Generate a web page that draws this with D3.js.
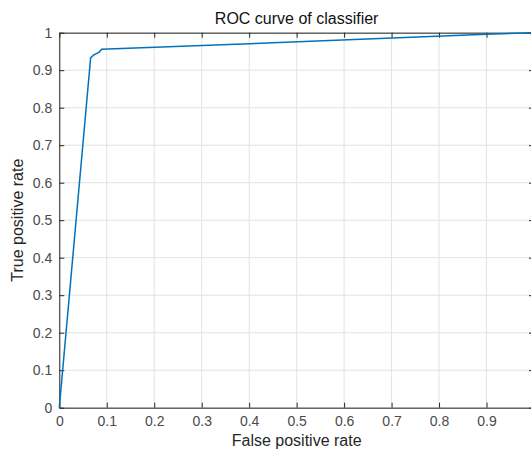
<!DOCTYPE html>
<html>
<head>
<meta charset="utf-8">
<script src="https://cdn.jsdelivr.net/npm/d3@7"></script>
<style>
  body { margin: 0; background: #fff; }
  svg { display: block; font-family: "Liberation Sans", Arial, sans-serif; }
</style>
</head>
<body>
<svg id="chart"></svg>
<script>
// ROC curve points
var fpr = [0, 0.066, 0.072, 0.078, 0.084, 0.089, 0.45, 0.9, 1];
var tpr = [0, 0.933, 0.940, 0.944, 0.948, 0.956, 0.973, 0.996, 1];

// Tick values and labels
var xTicks = [0, 0.1, 0.2, 0.3, 0.4, 0.5, 0.6, 0.7, 0.8, 0.9, 1];
var xTickLabels = ["0", "0.1", "0.2", "0.3", "0.4", "0.5", "0.6", "0.7", "0.8", "0.9", "1"];
var yTicks = [0, 0.1, 0.2, 0.3, 0.4, 0.5, 0.6, 0.7, 0.8, 0.9, 1];
var yTickLabels = ["0", "0.1", "0.2", "0.3", "0.4", "0.5", "0.6", "0.7", "0.8", "0.9", "1"];

var width = 531, height = 452;
var plot = {left: 59.3, right: 534, top: 32.7, bottom: 407.7};

var svg = d3.select("#chart")
  .attr("width", width)
  .attr("height", height);

var x = d3.scaleLinear().domain([0, 1]).range([plot.left, plot.right]);
var y = d3.scaleLinear().domain([0, 1]).range([plot.bottom, plot.top]);

// Grid
svg.append("g")
  .selectAll("line")
  .data(xTicks)
  .enter().append("line")
  .attr("x1", function (d) { return x(d); })
  .attr("x2", function (d) { return x(d); })
  .attr("y1", plot.top)
  .attr("y2", plot.bottom)
  .attr("stroke", "#e3e3e3")
  .attr("stroke-width", 1);

svg.append("g")
  .selectAll("line")
  .data(yTicks)
  .enter().append("line")
  .attr("x1", plot.left)
  .attr("x2", plot.right)
  .attr("y1", function (d) { return y(d); })
  .attr("y2", function (d) { return y(d); })
  .attr("stroke", "#e3e3e3")
  .attr("stroke-width", 1);

// Axes with inward ticks (box style)
function styleAxis(g) {
  g.select(".domain").attr("stroke", "#262626").attr("stroke-width", 1);
  g.selectAll(".tick line").attr("stroke", "#262626");
  g.selectAll(".tick text")
    .attr("fill", "#4a4a4a")
    .style("font-size", "14px")
    .style("font-family", "\"Liberation Sans\", Arial, sans-serif");
}

svg.append("g")
  .attr("transform", "translate(0," + plot.bottom + ")")
  .call(d3.axisBottom(x).tickValues(xTicks)
    .tickFormat(function (d, i) { return xTickLabels[i]; })
    .tickSizeInner(-5).tickSizeOuter(0).tickPadding(8))
  .call(styleAxis);

svg.append("g")
  .attr("transform", "translate(0," + plot.top + ")")
  .call(d3.axisTop(x).tickValues(xTicks)
    .tickFormat("").tickSizeInner(-5).tickSizeOuter(0))
  .call(styleAxis);

svg.append("g")
  .attr("transform", "translate(" + plot.left + ",0)")
  .call(d3.axisLeft(y).tickValues(yTicks)
    .tickFormat(function (d, i) { return yTickLabels[i]; })
    .tickSizeInner(-5).tickSizeOuter(0).tickPadding(7))
  .call(styleAxis);

svg.append("g")
  .attr("transform", "translate(" + plot.right + ",0)")
  .call(d3.axisRight(y).tickValues(yTicks)
    .tickFormat("").tickSizeInner(-5).tickSizeOuter(0))
  .call(styleAxis);

// ROC line
var line = d3.line()
  .x(function (d) { return x(d[0]); })
  .y(function (d) { return y(d[1]); });

svg.append("path")
  .datum(d3.zip(fpr, tpr))
  .attr("d", line)
  .attr("fill", "none")
  .attr("stroke", "#0072BD")
  .attr("stroke-width", 1.5);

// Title and axis labels
svg.append("text")
  .attr("x", (plot.left + plot.right) / 2)
  .attr("y", 24)
  .attr("text-anchor", "middle")
  .attr("fill", "#111")
  .style("font-size", "16px")
  .text("ROC curve of classifier");

svg.append("text")
  .attr("x", (plot.left + plot.right) / 2)
  .attr("y", 446)
  .attr("text-anchor", "middle")
  .attr("fill", "#262626")
  .style("font-size", "16px")
  .text("False positive rate");

svg.append("text")
  .attr("transform", "translate(23," + ((plot.top + plot.bottom) / 2) + ") rotate(-90)")
  .attr("text-anchor", "middle")
  .attr("fill", "#262626")
  .style("font-size", "16px")
  .text("True positive rate");
</script>
</body>
</html>
